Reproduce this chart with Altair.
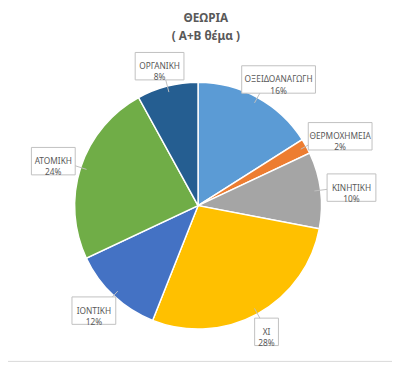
import altair as alt
import pandas as pd

categories = ["ΟΞΕΙΔΟΑΝΑΓΩΓΗ", "ΘΕΡΜΟΧΗΜΕΙΑ", "ΚΙΝΗΤΙΚΗ", "ΧΙ", "ΙΟΝΤΙΚΗ", "ΑΤΟΜΙΚΗ", "ΟΡΓΑΝΙΚΗ"]
values = [16, 2, 10, 28, 12, 24, 8]
colors = ["#5B9BD5", "#ED7D31", "#A5A5A5", "#FFC000", "#4472C4", "#70AD47", "#255E91"]
title_lines = ["ΘΕΩΡΙΑ", "( Α+Β θέμα )"]

df = pd.DataFrame({"name": categories, "value": values, "idx": list(range(len(categories)))})

W, H = 392, 362
CX, CY, R = 194, 198, 126
RA = 133  # anchor radius for labels
FONT = "Noto Sans"

base = (
    alt.Chart(df)
    .transform_joinaggregate(total="sum(value)")
    .transform_window(cum="sum(value)", sort=[alt.SortField("idx")], frame=[None, 0])
    .transform_calculate(
        mid="(datum.cum - datum.value/2) / datum.total * 2 * PI",
        pct="format(datum.value / datum.total, '.0%')",
    )
    .transform_calculate(
        lines="[datum.name, datum.pct]",
        w="max(length(datum.name), length(datum.pct)) * 5.1 + 9",
        h="28",
    )
    .transform_calculate(
        ax=f"{CX} + {RA}*sin(datum.mid)",
        ay=f"{CY} - {RA}*cos(datum.mid)",
        px=f"{CX} + {R*0.95}*sin(datum.mid)",
        py=f"{CY} - {R*0.95}*cos(datum.mid)",
    )
    .transform_calculate(
        bx="datum.ax + datum.w/2*sin(datum.mid)",
        by="datum.ay - datum.h/2*cos(datum.mid)",
    )
    .transform_calculate(
        x1="datum.bx - datum.w/2",
        x2="datum.bx + datum.w/2",
        y1="datum.by - datum.h/2",
        y2="datum.by + datum.h/2",
    )
)

pie = alt.Chart(df).mark_arc(outerRadius=R, stroke="white", strokeWidth=1.5).encode(
    theta=alt.Theta("value:Q", stack=True),
    color=alt.Color("name:N", scale=alt.Scale(domain=categories, range=colors), legend=None),
    order=alt.Order("idx:Q"),
    x=alt.value(CX),
    y=alt.value(CY),
)

pointer = base.mark_rule(color="#bfbfbf", strokeWidth=1).encode(
    x=alt.X("px:Q", scale=None),
    y=alt.Y("py:Q", scale=None),
    x2="ax:Q",
    y2="ay:Q",
)

boxes = base.mark_rect(fill="white", opacity=1, stroke="#bfbfbf", strokeWidth=1).encode(
    x=alt.X("x1:Q", scale=None),
    x2="x2:Q",
    y=alt.Y("y1:Q", scale=None),
    y2="y2:Q",
)

labels = base.mark_text(
    font=FONT, fontSize=8.5, color="#595959", lineHeight=11.5, baseline="middle", align="center"
).encode(
    x=alt.X("bx:Q", scale=None),
    y=alt.Y("by:Q", scale=None),
    text=alt.Text("lines:N"),
)

title = alt.Chart(pd.DataFrame({"t": [0]})).mark_text(
    font=FONT, fontSize=12, fontWeight="bold", color="#595959",
    lineHeight=18, baseline="top", align="center"
).encode(
    text=alt.value(title_lines),
    x=alt.value(202),
    y=alt.value(2),
)

bottom = alt.Chart(pd.DataFrame({"t": [0]})).mark_rule(color="#d9d9d9", strokeWidth=1).encode(
    x=alt.value(0), x2=alt.value(W), y=alt.value(357)
)

chart = (
    alt.layer(bottom, pie, pointer, boxes, labels, title)
    .properties(width=W, height=H, padding=0, autosize=alt.AutoSizeParams(type="none"))
    .configure_view(stroke=None)
)

chart.save("out.html", embed_options={"renderer": "svg", "actions": False})
